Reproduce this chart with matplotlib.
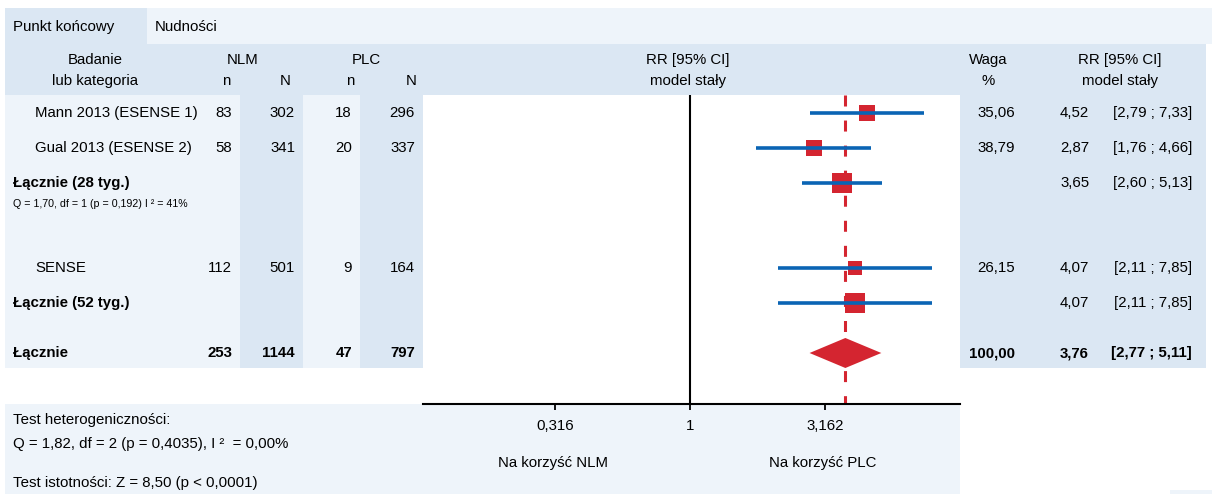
import numpy as np
import matplotlib.pyplot as plt
from matplotlib.patches import Rectangle

plt.rcParams['font.family'] = ['Liberation Sans', 'DejaVu Sans']

# study level data
studies = ["Mann 2013 (ESENSE 1)", "Gual 2013 (ESENSE 2)", "SENSE"]
nlm_n = [83, 58, 112]
nlm_N = [302, 341, 501]
plc_n = [18, 20, 9]
plc_N = [296, 337, 164]
weights = [35.06, 38.79, 26.15]
rr = [4.52, 2.87, 4.07]
rr_lo = [2.79, 1.76, 2.11]
rr_hi = [7.33, 4.66, 7.85]

# subgroup totals
sub_labels = ["Łącznie (28 tyg.)", "Łącznie (52 tyg.)"]
sub_rr = [3.65, 4.07]
sub_lo = [2.60, 2.11]
sub_hi = [5.13, 7.85]
sub_het = "Q = 1,70, df = 1 (p = 0,192) I ² = 41%"

# overall
tot_label = "Łącznie"
tot_counts = [253, 1144, 47, 797]
tot_weight = 100.00
tot_rr, tot_lo, tot_hi = 3.76, 2.77, 5.11

xticks = [0.316, 1, 3.162]
xtick_labels = ["0,316", "1", "3,162"]

DARK = "#dbe7f3"
LIGHT = "#eef4fa"
BLUE = "#0a64b4"
RED = "#d42530"
FS = 10.8


def fmt(v):
    return f"{v:.2f}".replace(".", ",")


def ci(lo, hi):
    return f"[{fmt(lo)} ; {fmt(hi)}]"


fig = plt.figure(figsize=(12.12, 4.94), dpi=100)
bg = fig.add_axes([0, 0, 1, 1])
bg.set_xlim(0, 1212)
bg.set_ylim(494, 0)
bg.axis('off')

# table background blocks (pixel layout)
for x, y, w, h, c in [
    (5, 8, 142, 36, DARK), (147, 8, 1065, 36, LIGHT),
    (5, 44, 1201, 51, DARK),
    (5, 95, 418, 273, LIGHT), (240, 95, 63, 273, DARK), (360, 95, 63, 273, DARK),
    (960, 95, 246, 273, DARK),
    (5, 404, 955, 90, LIGHT), (1170, 490, 42, 4, LIGHT),
]:
    bg.add_patch(Rectangle((x, y), w, h, color=c, lw=0))

# top bar and headers
bg.text(13, 27, "Punkt końcowy", fontsize=FS, va='center')
bg.text(155, 27, "Nudności", fontsize=FS, va='center')
hdr = [(95, 60, "Badanie"), (95, 81, "lub kategoria"),
       (243, 60, "NLM"), (226, 81, "n"), (285, 81, "N"),
       (366, 60, "PLC"), (350, 81, "n"), (411, 81, "N"),
       (688, 60, "RR [95% CI]"), (688, 81, "model stały"),
       (988, 60, "Waga"), (988, 81, "%"),
       (1120, 60, "RR [95% CI]"), (1120, 81, "model stały")]
for x, y, s in hdr:
    bg.text(x, y, s, fontsize=FS, ha='center', va='center')

study_y = [113, 148, 268]
sub_y = [183, 303]
tot_y = 353
num_x = [232, 295, 352, 415]


def table_row(y, label, lx, counts, w, r, lo, hi, lw='normal', vw='normal'):
    bg.text(lx, y, label, fontsize=FS, va='center', fontweight=lw)
    if counts is not None:
        for x, v in zip(num_x, counts):
            bg.text(x, y, str(v), fontsize=FS, ha='right', va='center', fontweight=vw)
    if w is not None:
        bg.text(1015, y, fmt(w), fontsize=FS, ha='right', va='center', fontweight=vw)
    bg.text(1060, y, fmt(r), fontsize=FS, ha='left', va='center', fontweight=vw)
    bg.text(1192, y, ci(lo, hi), fontsize=FS, ha='right', va='center', fontweight=vw)


for i in range(len(studies)):
    table_row(study_y[i], studies[i], 35, [nlm_n[i], nlm_N[i], plc_n[i], plc_N[i]],
              weights[i], rr[i], rr_lo[i], rr_hi[i])
for i in range(len(sub_labels)):
    table_row(sub_y[i], sub_labels[i], 13, None, None, sub_rr[i], sub_lo[i], sub_hi[i], lw='bold')
bg.text(13, 204, sub_het, fontsize=7.7, va='center')
table_row(tot_y, tot_label, 13, tot_counts, tot_weight, tot_rr, tot_lo, tot_hi, 'bold', 'bold')

# bottom notes
bg.text(13, 420, "Test heterogeniczności:", fontsize=FS, va='center')
bg.text(13, 444, "Q = 1,82, df = 2 (p = 0,4035), I ²  = 0,00%", fontsize=FS, va='center')
bg.text(13, 483, "Test istotności: Z = 8,50 (p < 0,0001)", fontsize=FS, va='center')
bg.text(553, 463, "Na korzyść NLM", fontsize=FS, ha='center', va='center')
bg.text(823, 463, "Na korzyść PLC", fontsize=FS, ha='center', va='center')

# forest plot panel
ax = fig.add_axes([423 / 1212, 1 - 404 / 494, (960 - 423) / 1212, (404 - 95) / 494])
ax.set_facecolor('white')
ax.set_xscale('log')
ax.set_xlim(10 ** -0.99, 10 ** 1.0)
ax.set_ylim(404, 95)
for s in ['top', 'left', 'right']:
    ax.spines[s].set_visible(False)
ax.spines['bottom'].set_linewidth(1.5)
ax.set_yticks([])
ax.set_xticks(xticks)
ax.set_xticklabels(xtick_labels)
ax.xaxis.set_minor_locator(plt.NullLocator())
ax.tick_params(axis='x', direction='out', length=4, width=1.3, pad=7, labelsize=FS)

ax.axvline(1, color='black', lw=1.5, zorder=1)
ax.plot([tot_rr, tot_rr], [95, 404], color=RED, lw=2.2, ls=(0, (3.6, 4.6)), zorder=2)

for i in range(len(studies)):
    ax.plot(rr[i], study_y[i], 's', color=RED, mew=0,
            ms=2.55 * np.sqrt(weights[i]) * 0.72, zorder=3)
    ax.plot([rr_lo[i], rr_hi[i]], [study_y[i]] * 2, color=BLUE, lw=2.6,
            solid_capstyle='butt', zorder=4)
for i in range(len(sub_labels)):
    ax.plot(sub_rr[i], sub_y[i], 's', color=RED, mew=0, ms=19.5 * 0.72, zorder=3)
    ax.plot([sub_lo[i], sub_hi[i]], [sub_y[i]] * 2, color=BLUE, lw=2.6,
            solid_capstyle='butt', zorder=4)

ax.fill([tot_lo, tot_rr, tot_hi, tot_rr], [tot_y, tot_y - 15, tot_y, tot_y + 15],
        color=RED, lw=0, zorder=3)

fig.savefig("out.png", dpi=100)
